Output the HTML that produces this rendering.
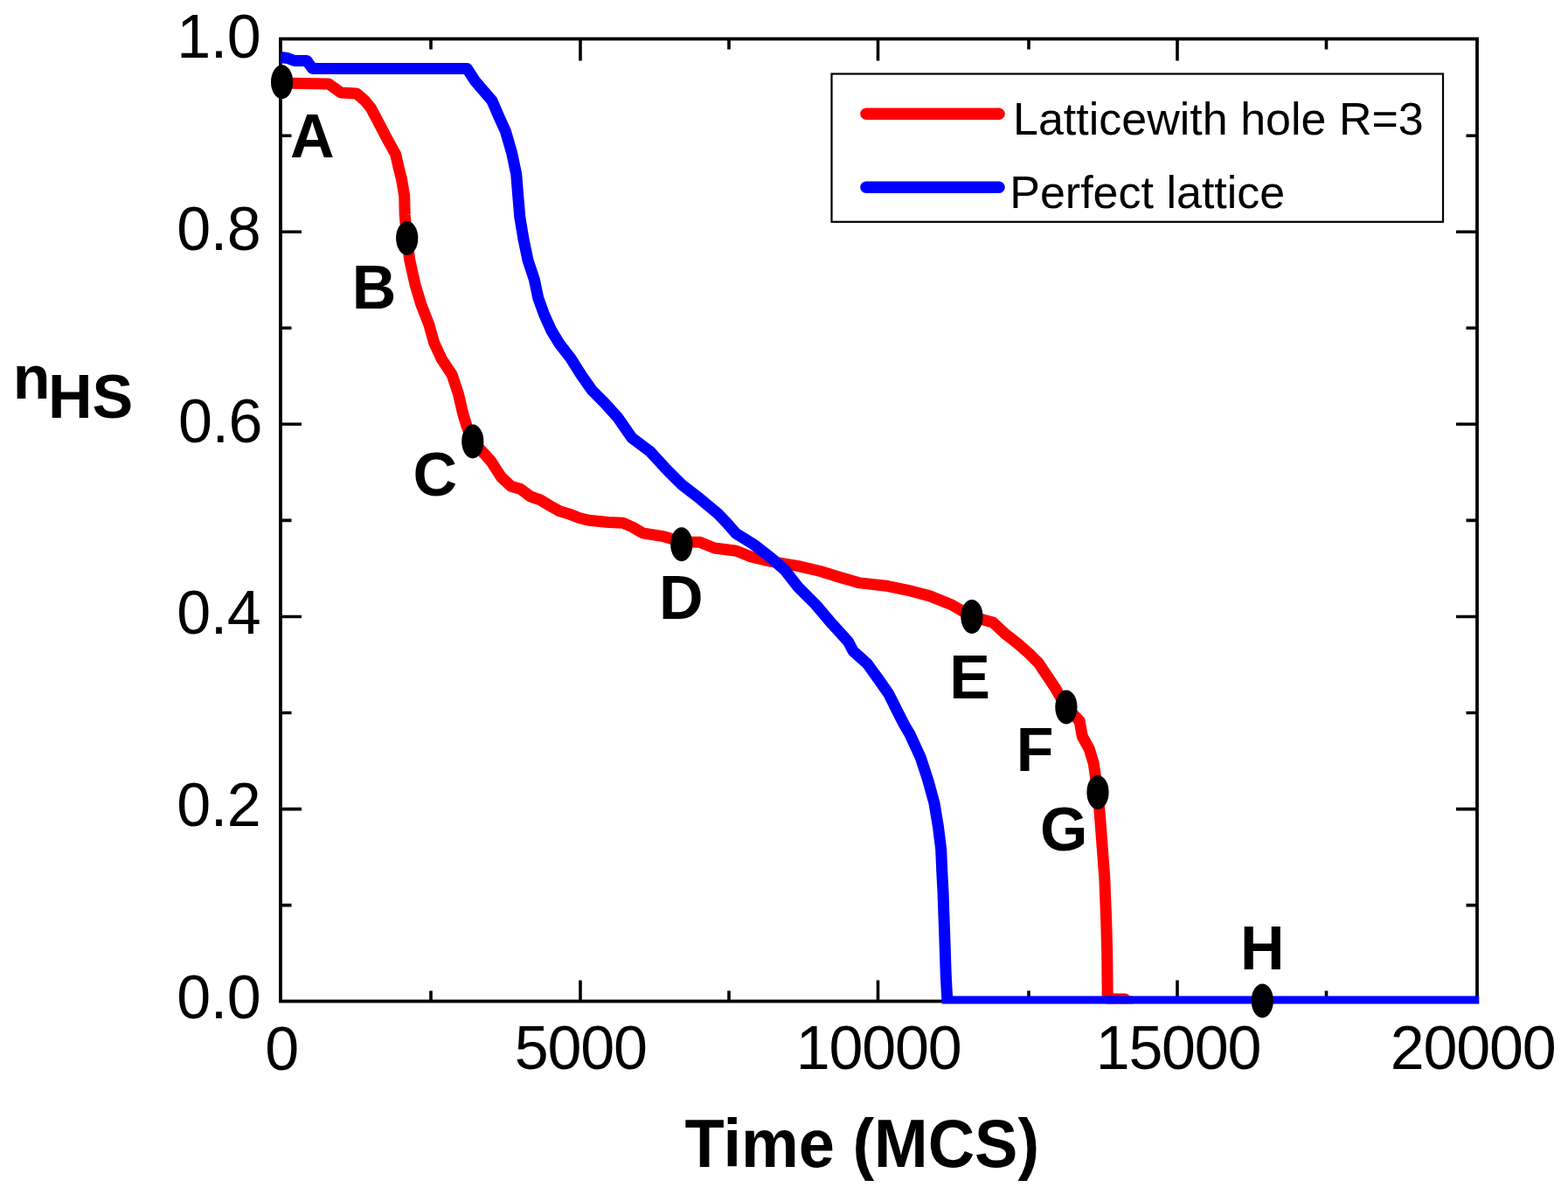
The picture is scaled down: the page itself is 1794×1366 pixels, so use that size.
<!DOCTYPE html>
<html><head><meta charset="utf-8"><title>n_HS vs Time</title>
<style>html,body{margin:0;padding:0;background:#fff;overflow:hidden}svg{display:block}</style>
</head><body>
<svg width="1794" height="1366" viewBox="0 0 1794 1366">
<defs><clipPath id="pc"><rect x="320.8" y="0" width="1371.5" height="1148.6"/></clipPath></defs>
<rect width="1794" height="1366" fill="#fff"/>
<path d="M664,1145.5V1121.5M664,44.5V69.5M1004.5,1145.5V1121.5M1004.5,44.5V69.5M1347,1145.5V1121.5M1347,44.5V69.5M493,1145.5V1133.5M493,44.5V56.5M834,1145.5V1133.5M834,44.5V56.5M1177,1145.5V1133.5M1177,44.5V56.5M1517.5,1145.5V1133.5M1517.5,44.5V56.5M321.0,1035.6H333.5M1690.0,1035.6H1677.5M321.0,925.6H345.0M1690.0,925.6H1666.0M321.0,815.5H333.5M1690.0,815.5H1677.5M321.0,705.5H345.0M1690.0,705.5H1666.0M321.0,595.4H333.5M1690.0,595.4H1677.5M321.0,485.3H345.0M1690.0,485.3H1666.0M321.0,375.3H333.5M1690.0,375.3H1677.5M321.0,265.2H345.0M1690.0,265.2H1666.0M321.0,155.2H333.5M1690.0,155.2H1677.5" stroke="#000" stroke-width="3.6" fill="none"/>
<rect x="321.0" y="44.5" width="1369.0" height="1101.0" fill="none" stroke="#000" stroke-width="3.8"/>
<g clip-path="url(#pc)" fill="none" stroke-width="13" stroke-linejoin="round" stroke-linecap="butt">
<polyline points="321.0,95.0 376.0,96.0 383.0,101.0 390.0,106.0 408.0,107.0 417.0,114.7 424.6,123.9 433.8,141.5 443.0,159.1 452.7,176.7 456.7,194.2 459.5,205.0 462.7,224.0 463.2,246.0 465.7,272.5 468.6,297.0 475.2,326.4 481.8,348.4 490.5,370.3 496.6,392.0 505.4,411.0 517.1,428.6 524.4,450.5 529.5,472.5 533.9,487.1 540.8,505.0 554.5,519.5 562.3,528.4 573.4,545.7 584.6,556.3 595.7,559.6 606.9,568.0 618.0,571.9 629.2,578.6 640.3,584.7 651.5,588.1 662.6,592.5 673.8,595.3 696.1,597.5 712.8,598.3 724.0,603.1 735.1,609.8 758.9,613.6 779.8,620.0 800.7,620.3 817.4,627.0 842.5,630.3 859.2,637.0 875.9,641.0 893.4,644.3 913.4,647.7 938.5,653.5 960.3,660.2 983.7,666.9 1013.8,670.2 1038.9,675.3 1063.9,681.9 1089.0,692.0 1111.9,705.4 1135.9,712.0 1149.7,724.8 1164.2,736.1 1177.1,747.4 1188.3,758.7 1198.0,773.2 1207.7,787.7 1219.9,808.9 1235.1,824.7 1238.3,842.5 1246.3,857.0 1251.2,873.1 1256.0,906.4 1258.1,928.6 1261.0,966.7 1263.8,1004.8 1265.7,1052.4 1266.7,1090.5 1267.2,1140.0 1268.5,1143.0 1287.0,1143.0 1290.0,1146.0 1296.0,1146.0" stroke="#f00"/>
<polyline points="321.0,65.5 329.0,66.5 337.0,69.5 351.0,69.5 357.5,78.5 534.3,78.4 543.6,92.8 550.7,101.0 563.0,115.3 571.0,133.8 578.4,150.2 585.6,174.8 590.7,199.3 592.7,223.9 594.8,248.5 598.9,273.1 604.0,297.7 611.4,320.0 615.8,341.1 622.8,360.4 630.8,378.0 640.4,393.8 652.7,409.6 665.0,429.0 677.3,446.5 691.4,460.6 707.2,478.2 723.0,501.0 744.1,516.8 763.4,537.9 780.5,554.9 801.0,570.7 821.5,587.7 831.7,598.4 842.0,610.2 862.5,623.0 883.0,638.9 898.4,652.7 913.4,671.9 933.5,692.0 951.9,713.7 970.3,733.8 976.1,744.8 992.2,759.3 1005.1,777.1 1016.4,793.2 1026.1,812.5 1034.5,829.0 1041.0,840.0 1053.2,866.4 1061.8,892.7 1069.0,919.0 1073.4,945.4 1076.7,971.8 1077.8,998.1 1079.0,1020.0 1080.5,1062.4 1082.3,1117.1 1083.9,1146.0 1700.0,1146.0" stroke="#00f"/>
</g>
<ellipse cx="322.6" cy="93.7" rx="12.6" ry="19.5" fill="#000"/>
<ellipse cx="465.7" cy="272.5" rx="12.6" ry="19.5" fill="#000"/>
<ellipse cx="540.8" cy="505" rx="12.6" ry="19.5" fill="#000"/>
<ellipse cx="779.8" cy="622.8" rx="12.6" ry="19.5" fill="#000"/>
<ellipse cx="1111.9" cy="705.4" rx="12.6" ry="19.5" fill="#000"/>
<ellipse cx="1219.9" cy="808.9" rx="12.6" ry="19.5" fill="#000"/>
<ellipse cx="1256" cy="906.4" rx="12.6" ry="19.5" fill="#000"/>
<ellipse cx="1444.3" cy="1144.9" rx="12.6" ry="19.5" fill="#000"/>
<rect x="951.5" y="84.5" width="699.5" height="169.3" fill="#fff" stroke="#000" stroke-width="2.2"/>
<line x1="991" y1="130.2" x2="1143" y2="130.2" stroke="#f00" stroke-width="13.5" stroke-linecap="round"/>
<line x1="991" y1="214.2" x2="1143" y2="214.2" stroke="#00f" stroke-width="13.5" stroke-linecap="round"/>
<text x="298.38" y="65.62" font-family="Liberation Sans, Arial, sans-serif" font-size="70" font-weight="normal" letter-spacing="-0.4" text-anchor="end">1.0</text>
<text x="298.38" y="285.50" font-family="Liberation Sans, Arial, sans-serif" font-size="70" font-weight="normal" letter-spacing="-0.4" text-anchor="end">0.8</text>
<text x="300.00" y="505.93" font-family="Liberation Sans, Arial, sans-serif" font-size="70" font-weight="normal" letter-spacing="-0.4" text-anchor="end">0.6</text>
<text x="298.38" y="725.18" font-family="Liberation Sans, Arial, sans-serif" font-size="70" font-weight="normal" letter-spacing="-0.4" text-anchor="end">0.4</text>
<text x="298.38" y="945.02" font-family="Liberation Sans, Arial, sans-serif" font-size="70" font-weight="normal" letter-spacing="-0.4" text-anchor="end">0.2</text>
<text x="298.38" y="1164.91" font-family="Liberation Sans, Arial, sans-serif" font-size="70" font-weight="normal" letter-spacing="-0.4" text-anchor="end">0.0</text>
<text x="322.07" y="1223.59" font-family="Liberation Sans, Arial, sans-serif" font-size="70" font-weight="normal" letter-spacing="-1.2" text-anchor="middle">0</text>
<text x="664.24" y="1222.60" font-family="Liberation Sans, Arial, sans-serif" font-size="70" font-weight="normal" letter-spacing="-1.2" text-anchor="middle">5000</text>
<text x="1005.11" y="1223.32" font-family="Liberation Sans, Arial, sans-serif" font-size="70" font-weight="normal" letter-spacing="-1.2" text-anchor="middle">10000</text>
<text x="1347.99" y="1223.32" font-family="Liberation Sans, Arial, sans-serif" font-size="70" font-weight="normal" letter-spacing="-1.2" text-anchor="middle">15000</text>
<text x="1685.10" y="1223.32" font-family="Liberation Sans, Arial, sans-serif" font-size="70" font-weight="normal" letter-spacing="-1.2" text-anchor="middle">20000</text>
<text transform="translate(783.53,1334.60) scale(1,1.058)" x="0" y="0" font-family="Liberation Sans, Arial, sans-serif" font-size="74" font-weight="bold" letter-spacing="0" text-anchor="start">Time (MCS)</text>
<text x="14.64" y="456.38" font-family="Liberation Sans, Arial, sans-serif" font-size="70" font-weight="bold" letter-spacing="0" text-anchor="start">n</text>
<text x="54.93" y="477.57" font-family="Liberation Sans, Arial, sans-serif" font-size="70" font-weight="bold" letter-spacing="0" text-anchor="start">HS</text>
<text x="1159.02" y="154.38" font-family="Liberation Sans, Arial, sans-serif" font-size="52" font-weight="normal" letter-spacing="0" text-anchor="start">Latticewith hole R=3</text>
<text x="1155.26" y="238.38" font-family="Liberation Sans, Arial, sans-serif" font-size="52" font-weight="normal" letter-spacing="0" text-anchor="start">Perfect lattice</text>
<text x="332.06" y="180.05" font-family="Liberation Sans, Arial, sans-serif" font-size="70" font-weight="bold" letter-spacing="0" text-anchor="start">A</text>
<text x="402.69" y="352.62" font-family="Liberation Sans, Arial, sans-serif" font-size="70" font-weight="bold" letter-spacing="0" text-anchor="start">B</text>
<text x="472.44" y="567.33" font-family="Liberation Sans, Arial, sans-serif" font-size="70" font-weight="bold" letter-spacing="0" text-anchor="start">C</text>
<text x="753.93" y="707.81" font-family="Liberation Sans, Arial, sans-serif" font-size="70" font-weight="bold" letter-spacing="0" text-anchor="start">D</text>
<text x="1086.26" y="798.81" font-family="Liberation Sans, Arial, sans-serif" font-size="70" font-weight="bold" letter-spacing="0" text-anchor="start">E</text>
<text x="1162.64" y="882.43" font-family="Liberation Sans, Arial, sans-serif" font-size="70" font-weight="bold" letter-spacing="0" text-anchor="start">F</text>
<text x="1190.06" y="973.47" font-family="Liberation Sans, Arial, sans-serif" font-size="70" font-weight="bold" letter-spacing="0" text-anchor="start">G</text>
<text x="1419.12" y="1109.00" font-family="Liberation Sans, Arial, sans-serif" font-size="70" font-weight="bold" letter-spacing="0" text-anchor="start">H</text>
</svg>
</body></html>
